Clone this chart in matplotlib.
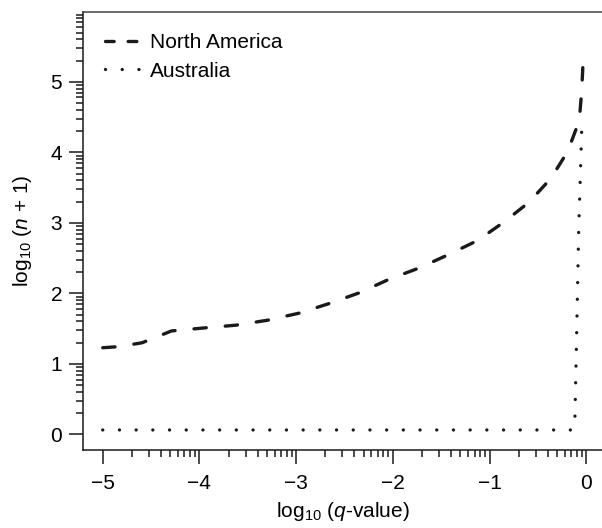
import numpy as np
import matplotlib
matplotlib.use("Agg")
import matplotlib.pyplot as plt
from matplotlib.lines import Line2D

plt.rcParams["font.family"] = ["Liberation Sans", "DejaVu Sans"]
plt.rcParams["mathtext.fontset"] = "custom"
plt.rcParams["mathtext.rm"] = "Liberation Sans"
plt.rcParams["mathtext.it"] = "Liberation Sans:italic"

# values
na_x = [-5.0, -4.84, -4.594, -4.289, -3.956, -3.622, -3.296, -2.97, -2.65, -2.344,
        -2.04, -1.729, -1.425, -1.124, -0.853, -0.594, -0.366, -0.193, -0.072,
        -0.047, -0.030, -0.023]
na_y = [1.23, 1.245, 1.30, 1.468, 1.51, 1.55, 1.62, 1.72, 1.86, 2.01,
        2.20, 2.36, 2.55, 2.75, 3.01, 3.29, 3.63, 4.01, 4.45,
        4.87, 5.36, 5.45]

au_x = [-5.0, -0.16, -0.12, -0.116, -0.098, -0.078, -0.047]
au_y = [0.064, 0.064, 0.09, 0.3, 1.5, 2.9, 4.31]

x_major = [-5, -4, -3, -2, -1, 0]
y_major = [0, 1, 2, 3, 4, 5]
labels = ["North America", "Australia"]

fs = 15
col = "#1a1a1a"

fig = plt.figure(figsize=(6.02, 5.28), dpi=100)
ax = fig.add_axes([83 / 602, 1 - 450 / 528, 1 - 83 / 602, (450 - 12) / 528])

ax.plot(na_x, na_y, color=col, lw=2.4, dashes=(3.7, 5.7), dash_capstyle="round")
ax.plot(au_x, au_y, color=col, lw=2.4, linestyle=(0, (0.01, 5.0)),
        dash_capstyle="round")

ax.set_xlim(-5.204, 0.163)
ax.set_ylim(-0.22, 5.99)

ax.set_xticks(x_major)
ax.set_yticks(y_major)
ax.set_xticklabels(["\u22125", "\u22124", "\u22123", "\u22122", "\u22121", "0"])
ax.set_yticklabels([str(v) for v in y_major])

xminor = [m + np.log10(k) for m in range(-5, 0) for k in range(2, 10)]
yminor = [m + np.log10(k) for m in range(0, 6) for k in range(2, 10)]
ax.set_xticks(xminor, minor=True)
ax.set_yticks(yminor, minor=True)

ax.tick_params(which="major", length=10, width=1.1, labelsize=fs, pad=5,
               color=col)
ax.tick_params(which="minor", length=5, width=1.1, color=col)
ax.tick_params(axis="x", which="major", pad=7)

ax.spines["right"].set_visible(False)
for s in ["left", "bottom", "top"]:
    ax.spines[s].set_linewidth(1.1)
    ax.spines[s].set_color(col)
ax.spines["top"].set_color("#444444")

ax.set_xlabel("log$_{10}$ ($q$-value)", fontsize=fs, labelpad=5)
ax.set_ylabel("log$_{10}$ ($n$ + 1)", fontsize=fs, labelpad=12)

# legend keys with a shorter dash so two dashes fit, as in the original
handles = [
    Line2D([], [], color=col, lw=2.4, dashes=(2.6, 4.2), dash_capstyle="round"),
    Line2D([], [], color=col, lw=2.4, linestyle=(0, (0.01, 5.0)),
           dash_capstyle="round"),
]
ax.legend(handles, labels, loc="upper left", bbox_to_anchor=(0.015, 0.985),
          frameon=False, fontsize=fs, handlelength=1.6, handletextpad=0.55,
          labelspacing=0.45, borderaxespad=0.3)

fig.savefig("out.png", dpi=100)
